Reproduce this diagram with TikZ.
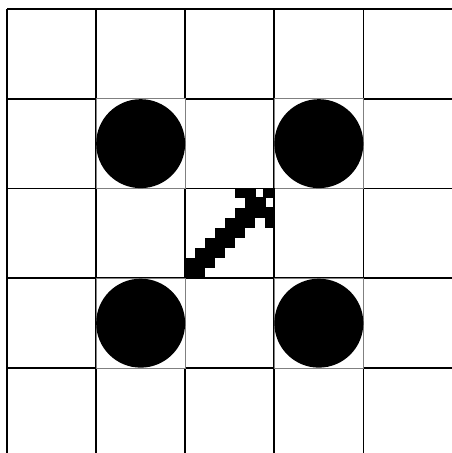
\documentclass[tikz,border=0pt]{standalone}
\usepackage{tikz}
\tikzset{
  gridline/.style ={draw=black, line width=0.95pt},
  tilebox/.style  ={draw=black!50, fill=white, line width=0.5pt},
  pitdisc/.style  ={fill=black},
  pixelsq/.style  ={fill=black},
  pixelhole/.style={fill=white},
}

\begin{document}
\begin{tikzpicture}[x=0.02cm,y=-0.02cm]
  \useasboundingbox (0,0) rectangle (452,453);
  \fill[white] (0,0) rectangle (452,453);
  %% board
  \foreach \i in {0,...,4}
    \draw[gridline] ({7+\i*89.1},9) -- ({7+\i*89.1},453);
  \foreach \j in {0,...,4}
    \draw[gridline] (7,{9+\j*89.75}) -- (452,{9+\j*89.75});
  %% disc tiles
  \foreach \i/\j in {1/1,3/1,1/3,3/3}{
    \draw[tilebox] ({7+\i*89.1},{9+\j*89.75}) rectangle ++(89.1,89.75);
    \fill[pitdisc] ({7+\i*89.1+44.55},{9+\j*89.75+44.9}) circle (0.89cm);
  }
  %% pixel arrow in the middle tile
  \foreach \r/\cols in {0/{5,6,7,8},1/{6,7,8},2/{5,6,7,8},3/{4,5,6,8},
                        4/{3,4,5},5/{2,3,4},6/{1,2,3},7/{0,1,2},8/{0,1}}
    \foreach \c in \cols
      \fill[pixelsq] ({185.2+\c*9.95},{188+\r*9.95}) rectangle ++(10.05,10.05);
  \fill[pixelhole] (256,188.6) rectangle (262.7,196.7);
  \fill[pixelhole] (266,198.3) rectangle (272.7,206.7);
\end{tikzpicture}
\end{document}
